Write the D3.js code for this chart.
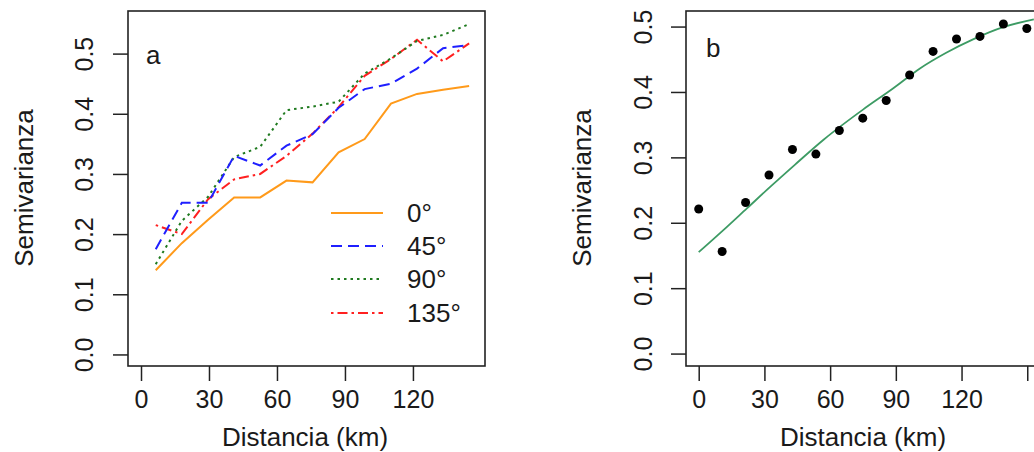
<!DOCTYPE html>
<meta charset="utf-8">
<style>
    body { margin: 0; background: #fff; }
    svg { display: block; }
    text { font-family: "Liberation Sans", Arial, sans-serif; fill: #1a1a1a; }
    .axis path.domain { display: none; }
    .axis line { stroke: #222; stroke-width: 1.5px; }
    .axis text { font-size: 25px; }
    .frame { fill: none; stroke: #222; stroke-width: 1.6px; }
</style>
<body>
<script src="https://d3js.org/d3.v7.min.js"></script>
<script>
// panel a: directional semivariograms
var lagsA = [6.5, 18.0, 29.6, 41.1, 52.6, 64.2, 75.7, 87.2, 98.7, 110.3, 121.8, 133.3, 144.8];
var dir0   = [0.140, 0.185, 0.224, 0.261, 0.261, 0.289, 0.286, 0.336, 0.358, 0.417, 0.433, 0.440, 0.446];
var dir45  = [0.175, 0.252, 0.252, 0.330, 0.314, 0.347, 0.366, 0.410, 0.441, 0.450, 0.475, 0.509, 0.514];
var dir90  = [0.150, 0.222, 0.262, 0.328, 0.345, 0.406, 0.412, 0.420, 0.467, 0.492, 0.521, 0.531, 0.549];
var dir135 = [0.215, 0.200, 0.258, 0.291, 0.300, 0.330, 0.367, 0.411, 0.463, 0.491, 0.523, 0.487, 0.517];
var dirLabels = ["0°", "45°", "90°", "135°"];

// panel b: empirical semivariogram + fitted model
var lagsB  = [0, 10.7, 21.4, 32.1, 42.8, 53.5, 64.2, 74.9, 85.6, 96.3, 107.0, 117.7, 128.4, 139.1, 149.8];
var gammaB = [0.221, 0.156, 0.231, 0.273, 0.312, 0.305, 0.341, 0.360, 0.387, 0.426, 0.462, 0.481, 0.485, 0.504, 0.497];
var modelDist = [0, 11, 22, 33, 44, 57, 75, 89, 101, 113, 125, 139, 153];
var modelVal  = [0.155, 0.188, 0.222, 0.256, 0.289, 0.327, 0.373, 0.406, 0.436, 0.460, 0.480, 0.499, 0.511];

var xTicksA = [0, 30, 60, 90, 120];
var xTicksB = [0, 30, 60, 90, 120, 150];
var yTicks = [0, 0.1, 0.2, 0.3, 0.4, 0.5];

var svg = d3.select("body").append("svg").attr("width", 1034).attr("height", 452);

function panel(opts) {
    var x = d3.scaleLinear().domain(opts.xdom).range([opts.left, opts.right]);
    var y = d3.scaleLinear().domain(opts.ydom).range([opts.bottom, opts.top]);
    var g = svg.append("g");

    var xa = g.append("g").attr("class", "axis")
        .attr("transform", "translate(0," + opts.bottom + ")")
        .call(d3.axisBottom(x).tickValues(opts.xticks).tickSize(15).tickPadding(9)
            .tickFormat(function(d) { return d <= 120 ? d : ""; }));
    xa.selectAll("text").attr("fill", "#1a1a1a");

    var ya = g.append("g").attr("class", "axis")
        .attr("transform", "translate(" + opts.left + ",0)")
        .call(d3.axisLeft(y).tickValues(yTicks).tickSize(15).tickFormat(d3.format(".1f")));
    ya.selectAll("text")
        .attr("fill", "#1a1a1a")
        .attr("transform", "rotate(-90)")
        .attr("x", 0).attr("y", opts.ytickOff).attr("dy", "0.35em")
        .attr("text-anchor", "middle");

    g.append("rect").attr("class", "frame")
        .attr("x", opts.left).attr("y", opts.top)
        .attr("width", opts.right - opts.left).attr("height", opts.bottom - opts.top);

    g.append("text").attr("x", opts.xlabX).attr("y", 446)
        .attr("text-anchor", "middle").style("font-size", "26px").text("Distancia (km)");
    // rotated title: baseline sits on the right side of the glyphs
    g.append("text")
        .attr("transform", "translate(" + (opts.left - 95) + "," + opts.ylabY + ") rotate(-90)")
        .attr("text-anchor", "middle").style("font-size", "26px").text("Semivarianza");
    g.append("text").attr("x", opts.tagX).attr("y", opts.tagY)
        .style("font-size", "26px").text(opts.tag);

    return { g: g, x: x, y: y };
}

// ---- panel a
var pa = panel({ left: 128, right: 485, top: 11, bottom: 366,
    xdom: [-5.74, 151.8], ydom: [-0.0192, 0.5708], xticks: xTicksA, ytickOff: -44,
    xlabX: 305, ylabY: 188, tag: "a", tagX: 146, tagY: 64 });

var series = [
    { v: dir0,   color: "#ff9a1a", dash: null },
    { v: dir45,  color: "#1f1fff", dash: "11,6" },
    { v: dir90,  color: "#1f7a1f", dash: "2.5,4" },
    { v: dir135, color: "#ff2020", dash: "2.5,4,10,4" }
];

var lineA = d3.line()
    .x(function(d) { return pa.x(d[0]); })
    .y(function(d) { return pa.y(d[1]); });

series.slice().reverse().forEach(function(s) {
    pa.g.append("path")
        .datum(d3.zip(lagsA, s.v))
        .attr("d", lineA)
        .attr("fill", "none")
        .attr("stroke", s.color)
        .attr("stroke-width", 2)
        .attr("stroke-dasharray", s.dash);
});

var legY = [213, 246, 279, 313];
series.forEach(function(s, i) {
    pa.g.append("line")
        .attr("x1", 331).attr("x2", 383)
        .attr("y1", legY[i]).attr("y2", legY[i])
        .attr("stroke", s.color).attr("stroke-width", 2)
        .attr("stroke-dasharray", s.dash);
    pa.g.append("text")
        .attr("x", 407).attr("y", legY[i]).attr("dy", "0.36em")
        .style("font-size", "26px").text(dirLabels[i]);
});

// ---- panel b
var pb = panel({ left: 686, right: 1045, top: 11, bottom: 366,
    xdom: [-5.8, 158.1], ydom: [-0.019, 0.5238], xticks: xTicksB, ytickOff: -43,
    xlabX: 863, ylabY: 188, tag: "b", tagX: 706, tagY: 57 });

pb.g.append("path")
    .datum(d3.zip(modelDist, modelVal))
    .attr("d", d3.line().curve(d3.curveMonotoneX)
        .x(function(d) { return pb.x(d[0]); })
        .y(function(d) { return pb.y(d[1]); }))
    .attr("fill", "none")
    .attr("stroke", "#3d9b64")
    .attr("stroke-width", 1.8);

pb.g.selectAll("circle")
    .data(d3.zip(lagsB, gammaB))
    .enter().append("circle")
    .attr("cx", function(d) { return pb.x(d[0]); })
    .attr("cy", function(d) { return pb.y(d[1]); })
    .attr("r", 4.5)
    .attr("fill", "#000");
</script>
</body>
